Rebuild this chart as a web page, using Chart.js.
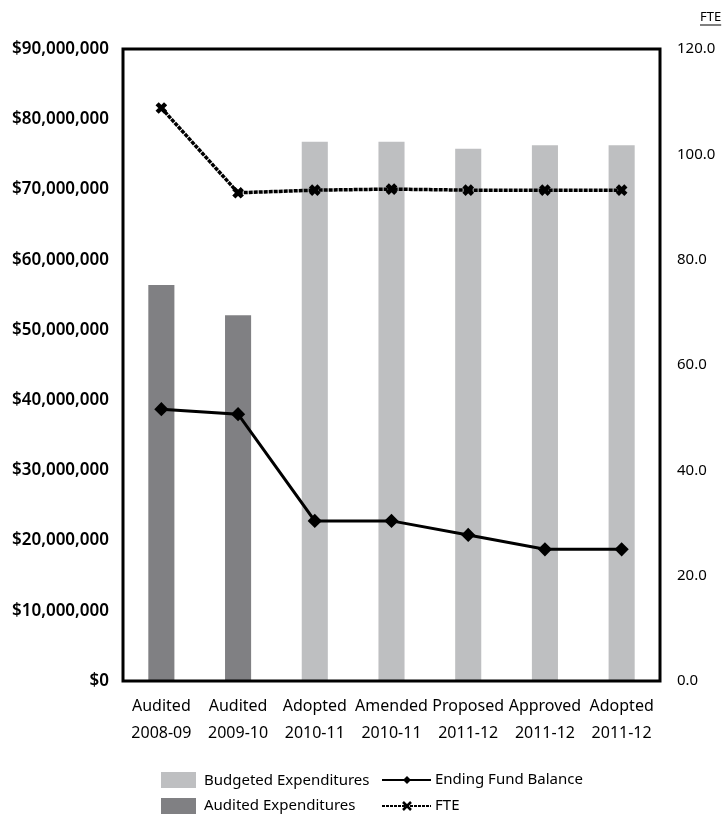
<!DOCTYPE html>
<html>
<head>
<meta charset="utf-8">
<script src="https://cdn.jsdelivr.net/npm/chart.js@4"></script>
<style>
  html, body { margin: 0; padding: 0; background: #fff; }
  #wrap { position: relative; width: 727px; height: 819px; }
</style>
</head>
<body>
<div id="wrap"><canvas id="chart" width="727" height="819"></canvas></div>
<script>
const categories = [
    ["Audited", "2008-09"], ["Audited", "2009-10"], ["Adopted", "2010-11"],
    ["Amended", "2010-11"], ["Proposed", "2011-12"], ["Approved", "2011-12"], ["Adopted", "2011-12"]
];
const budgetedExp = [null, null, 76800000, 76800000, 75800000, 76300000, 76300000];
const auditedExp = [56400000, 52100000, null, null, null, null, null];
const fundBalance = [38700000, 38000000, 22800000, 22800000, 20800000, 18750000, 18750000];
const fte = [108.8, 92.7, 93.2, 93.4, 93.2, 93.2, 93.2];

const FONT = "'Noto Sans', sans-serif";
const BUDGET_COLOR = "#bebfc1";
const AUDIT_COLOR = "#808083";

// frame, FTE title and a two-column legend drawn on the canvas
const decorPlugin = {
    id: "decor",
    afterDraw(chart) {
        const ctx = chart.ctx;
        const a = chart.chartArea;
        ctx.save();
        ctx.strokeStyle = "#000";
        ctx.lineWidth = 3;
        ctx.strokeRect(a.left, a.top, a.right - a.left, a.bottom - a.top);

        ctx.fillStyle = "#000";
        ctx.font = "13px " + FONT;
        ctx.textBaseline = "middle";
        ctx.textAlign = "left";
        const w = ctx.measureText("FTE").width;
        ctx.fillText("FTE", 700, 17);
        ctx.lineWidth = 1;
        ctx.beginPath();
        ctx.moveTo(700, 25); ctx.lineTo(700 + w, 25);
        ctx.stroke();

        ctx.font = "15px " + FONT;
        // bars
        ctx.fillStyle = BUDGET_COLOR;
        ctx.fillRect(161, 772, 35, 16);
        ctx.fillStyle = AUDIT_COLOR;
        ctx.fillRect(161, 798, 35, 16);
        ctx.fillStyle = "#000";
        ctx.fillText("Budgeted Expenditures", 204, 781);
        ctx.fillText("Audited Expenditures", 204, 806);
        // lines
        ctx.strokeStyle = "#000";
        ctx.lineWidth = 2;
        ctx.beginPath(); ctx.moveTo(382, 780); ctx.lineTo(431, 780); ctx.stroke();
        ctx.beginPath();
        ctx.moveTo(407, 776); ctx.lineTo(411, 780); ctx.lineTo(407, 784); ctx.lineTo(403, 780);
        ctx.closePath(); ctx.fill();
        ctx.setLineDash([3, 1]);
        ctx.beginPath(); ctx.moveTo(382, 806); ctx.lineTo(431, 806); ctx.stroke();
        ctx.setLineDash([]);
        ctx.lineWidth = 2.5;
        ctx.beginPath();
        ctx.moveTo(403, 802); ctx.lineTo(411, 810);
        ctx.moveTo(411, 802); ctx.lineTo(403, 810);
        ctx.stroke();
        ctx.fillText("Ending Fund Balance", 435, 780);
        ctx.fillText("FTE", 435, 806);
        ctx.restore();
    }
};

new Chart(document.getElementById("chart"), {
    data: {
        labels: categories,
        datasets: [
            {
                type: "line", label: "Ending Fund Balance", data: fundBalance, yAxisID: "y",
                borderColor: "#000", borderWidth: 3, pointStyle: "rectRot", pointRadius: 5,
                pointBackgroundColor: "#000", pointBorderColor: "#000", tension: 0, order: 0
            },
            {
                type: "line", label: "FTE", data: fte, yAxisID: "y2",
                borderColor: "#000", borderWidth: 3.5, borderDash: [4, 1], pointStyle: "crossRot",
                pointRadius: 6, pointBorderWidth: 4.5, pointBorderColor: "#000", tension: 0, order: 0
            },
            {
                type: "bar", label: "Budgeted Expenditures", data: budgetedExp, yAxisID: "y",
                backgroundColor: BUDGET_COLOR, grouped: false, barPercentage: 0.34,
                categoryPercentage: 1, order: 1
            },
            {
                type: "bar", label: "Audited Expenditures", data: auditedExp, yAxisID: "y",
                backgroundColor: AUDIT_COLOR, grouped: false, barPercentage: 0.34,
                categoryPercentage: 1, order: 1
            }
        ]
    },
    options: {
        responsive: false,
        animation: false,
        layout: { padding: { top: 49, left: 0, right: 0, bottom: 0 } },
        plugins: { legend: { display: false }, tooltip: { enabled: false } },
        scales: {
            x: {
                offset: true,
                grid: { display: false, drawTicks: false },
                border: { display: false },
                afterFit: (s) => { s.height = 138; },
                ticks: {
                    color: "#000", autoSkip: false, maxRotation: 0, minRotation: 0, padding: 12,
                    font: { family: FONT, size: 16, lineHeight: 1.7 }
                }
            },
            y: {
                position: "left", min: 0, max: 90000000,
                grid: { display: false, drawTicks: false },
                border: { display: false },
                afterFit: (s) => { s.width = 123; },
                ticks: {
                    stepSize: 10000000, color: "#000", padding: 14,
                    font: { family: FONT, size: 17, weight: "600" },
                    callback: (v) => "$" + v.toLocaleString("en-US")
                }
            },
            y2: {
                position: "right", min: 0, max: 120,
                grid: { display: false, drawTicks: false },
                border: { display: false },
                afterFit: (s) => { s.width = 67; },
                ticks: {
                    stepSize: 20, color: "#000", padding: 17,
                    font: { family: FONT, size: 15 },
                    callback: (v) => v.toFixed(1)
                }
            }
        }
    },
    plugins: [decorPlugin]
});
</script>
</body>
</html>
